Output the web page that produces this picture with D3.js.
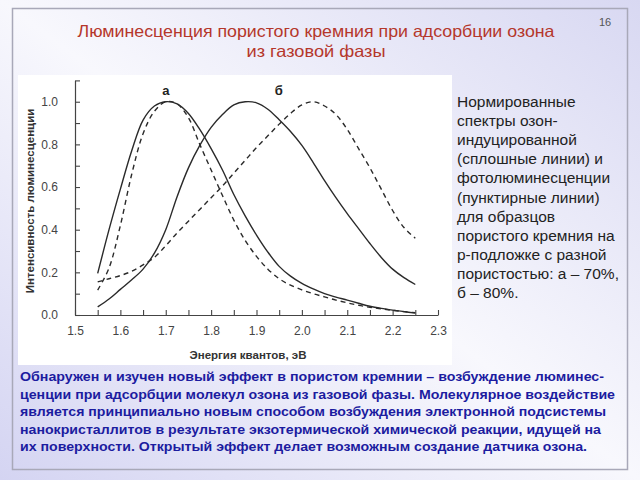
<!DOCTYPE html>
<html>
<head>
<meta charset="utf-8">
<script src="https://cdn.jsdelivr.net/npm/d3@7"></script>
<style>
html,body{margin:0;padding:0;background:#fff;}
svg{display:block;font-family:"Liberation Sans",Arial,sans-serif;}
</style>
</head>
<body>
<script>
// ---- data ----
const energy  = [1.55,1.575,1.60,1.625,1.65,1.675,1.70,1.725,1.75,1.775,1.80,1.825,1.85,1.875,1.90,1.925,1.95,1.975,2.00,2.025,2.05,2.075,2.10,2.125,2.15,2.175,2.20,2.225,2.25];
const solidA  = [.195,.40,.59,.77,.914,.98,1.0,.99,.945,.87,.78,.68,.565,.465,.375,.295,.228,.182,.148,.122,.10,.084,.07,.055,.041,.031,.023,.016,.009];
const dashedA = [.117,.22,.42,.66,.85,.955,1.0,.99,.925,.80,.68,.56,.445,.35,.275,.215,.17,.14,.118,.10,.085,.07,.057,.046,.036,.029,.022,.016,.011];
const solidB  = [.038,.075,.12,.165,.215,.29,.40,.555,.69,.795,.88,.94,.985,1.0,.995,.965,.915,.86,.795,.715,.63,.55,.475,.405,.335,.27,.215,.175,.143];
const dashedB = [.155,.17,.185,.205,.235,.27,.325,.385,.44,.495,.55,.605,.665,.725,.785,.84,.895,.945,.985,1.0,.98,.94,.87,.78,.69,.59,.49,.41,.36];
const xTicks = [1.5,1.55,1.6,1.65,1.7,1.75,1.8,1.85,1.9,1.95,2.0,2.05,2.1,2.15,2.2,2.25,2.3];
const yTicks = [0,0.1,0.2,0.3,0.4,0.5,0.6,0.7,0.8,0.9,1.0,1.1];
const curveLabels = [{t:"а", x:1.70}, {t:"б", x:1.949}];

const titleLines = ["Люминесценция пористого кремния при адсорбции озона","из газовой фазы"];
const pageNumber = "16";
const sideText = ["Нормированные","спектры озон-","индуцированной","(сплошные линии) и","фотолюминесценции","(пунктирные линии)","для образцов","пористого кремния на","р-подложке с разной","пористостью: а – 70%,","б – 80%."];
const bodyText = ["Обнаружен и изучен новый эффект в пористом кремнии – возбуждение люминес-",
"ценции при адсорбции молекул озона из газовой фазы. Молекулярное воздействие",
"является принципиально новым способом возбуждения электронной подсистемы",
"нанокристаллитов в результате экзотермической химической реакции, идущей на",
"их поверхности. Открытый эффект делает возможным создание датчика озона."];
const bodyLineEnds = [604,615,606,601,587];

// ---- page ----
const W = 640, H = 480;
const svg = d3.select("body").append("svg").attr("width", W).attr("height", H);
const defs = svg.append("defs");
const g1 = defs.append("linearGradient").attr("id","bg").attr("x1","1").attr("y1","0").attr("x2","0").attr("y2","1");
g1.append("stop").attr("offset","0").attr("stop-color","#d8d8f2");
g1.append("stop").attr("offset","0.5").attr("stop-color","#f8f8fd");
g1.append("stop").attr("offset","1").attr("stop-color","#d4d4f2");
svg.append("rect").attr("width",W).attr("height",H).attr("fill","url(#bg)");
svg.append("rect").attr("x",12.5).attr("y",8.5).attr("width",615).attr("height",461)
  .attr("fill","none").attr("stroke","#a8a8b8").attr("stroke-width",1.5);

// title
svg.selectAll("text.title").data(titleLines).join("text").attr("class","title")
  .attr("x",316).attr("y",(d,i)=>37+i*20).attr("text-anchor","middle")
  .attr("font-size",16.5).attr("fill","#b5372b").text(d=>d)
  .attr("textLength",(d,i)=>[477,139][i]).attr("lengthAdjust","spacingAndGlyphs");
svg.append("text").attr("x",605).attr("y",26).attr("text-anchor","middle")
  .attr("font-size",11).attr("fill","#555").text(pageNumber);

// chart white panel
svg.append("rect").attr("x",18).attr("y",75).attr("width",434).attr("height",290).attr("fill","#fff");

const x = d3.scaleLinear().domain([1.5,2.3]).range([75,438]);
const y = d3.scaleLinear().domain([0,1.1]).range([315,80.4]);

const fmt = d3.format(".1f");
const isMajor = (v,step)=> Math.abs(Math.round(v/step)*step - v) < 1e-6;

const gx = svg.append("g").attr("transform",`translate(0,${y(0)})`)
  .call(d3.axisBottom(x).tickValues(xTicks).tickSizeInner(-5).tickSizeOuter(0).tickPadding(11)
    .tickFormat(d=> isMajor(d,0.1) ? fmt(d) : ""));
const gy = svg.append("g").attr("transform",`translate(${x(1.5)},0)`)
  .call(d3.axisLeft(y).tickValues(yTicks).tickSizeInner(-5).tickSizeOuter(0).tickPadding(17)
    .tickFormat(d=> (isMajor(d,0.2) && d<=1.0) ? fmt(d) : ""));
[gx,gy].forEach(g=>{
  g.select(".domain").attr("stroke","#444").attr("stroke-width",1.2);
  g.selectAll(".tick line").attr("stroke","#444").attr("stroke-width",1.1);
  g.selectAll(".tick text").attr("fill","#444").attr("font-size",12)
    .attr("font-family","'Liberation Sans',Arial,sans-serif");
});

svg.append("text").attr("x",248).attr("y",359).attr("text-anchor","middle")
  .attr("font-size",11.5).attr("font-weight","bold").attr("fill","#333").text("Энергия квантов, эВ");
svg.append("text").attr("transform","translate(34,201) rotate(-90)").attr("text-anchor","middle")
  .attr("font-size",11.5).attr("font-weight","bold").attr("fill","#333").text("Интенсивность люминесценции");

const line = d3.line().x((d,i)=>x(energy[i])).y(d=>y(d)).curve(d3.curveCatmullRom.alpha(0.5));
const series = [
  {v:solidA, dash:null},{v:solidB, dash:null},
  {v:dashedA, dash:"5,4"},{v:dashedB, dash:"5,4"}
];
svg.selectAll("path.curve").data(series).join("path").attr("class","curve")
  .attr("d",d=>line(d.v)).attr("fill","none").attr("stroke","#2a2a2a")
  .attr("stroke-width",1.4).attr("stroke-dasharray",d=>d.dash);

svg.selectAll("text.clabel").data(curveLabels).join("text").attr("class","clabel")
  .attr("x",d=>x(d.x)).attr("y",95).attr("text-anchor","middle")
  .attr("font-size",13).attr("font-weight","bold").attr("fill","#222").text(d=>d.t);

// side text
svg.selectAll("text.side").data(sideText).join("text").attr("class","side")
  .attr("x",457).attr("y",(d,i)=>107+i*19.1).attr("font-size",15.5).attr("fill","#222").text(d=>d);

// body paragraph
svg.selectAll("text.body").data(bodyText).join("text").attr("class","body")
  .attr("x",20).attr("y",(d,i)=>381+i*17.5).attr("font-size",13).attr("font-weight","bold")
  .attr("fill","#1c1ca0").text(d=>d)
  .attr("textLength",(d,i)=>bodyLineEnds[i]-20).attr("lengthAdjust","spacingAndGlyphs");
</script>
</body>
</html>
